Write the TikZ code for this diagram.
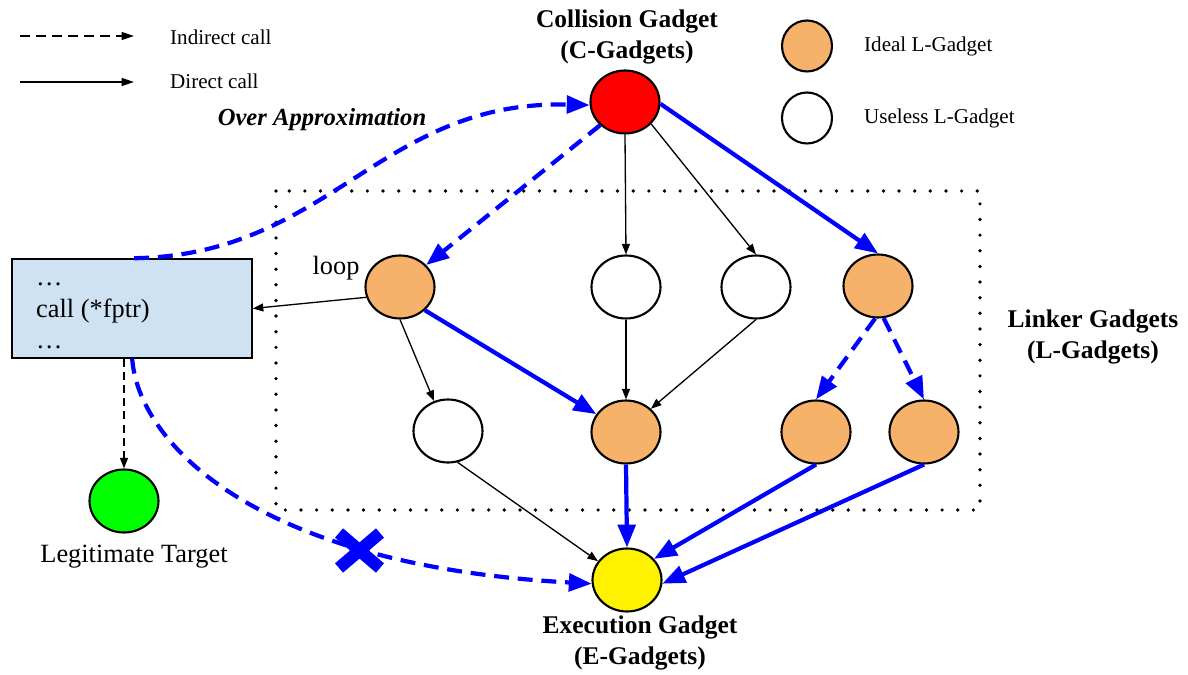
\documentclass[tikz,border=0pt]{standalone}
\usepackage{fontspec}
\setmainfont{Liberation Serif}
\usetikzlibrary{shapes.geometric,arrows.meta}
\definecolor{lorange}{HTML}{F6B26B}
\definecolor{boxblue}{HTML}{CFE2F3}
\definecolor{pureblue}{HTML}{0000FF}
\begin{document}
\begin{tikzpicture}[x=0.02cm,y=-0.02cm,
  gadget/.style={ellipse,draw=black,line width=1.2pt,minimum width=1.38cm,minimum height=1.26cm,inner sep=0pt},
  keycirc/.style={ellipse,draw=black,line width=1.2pt,minimum width=1.0cm,minimum height=1.02cm,inner sep=0pt},
  ideal/.style={gadget,fill=lorange},
  useless/.style={gadget,fill=white},
  thinarrow/.style={draw=black,line width=0.75pt,-{Triangle[length=6pt,width=4.5pt]}},
  thindash/.style={thinarrow,dash pattern=on 4.5pt off 3pt},
  bluearrow/.style={draw=pureblue,line width=2.4pt,-{Triangle[length=13pt,width=10pt]}},
  bluedash/.style={bluearrow,dash pattern=on 8.5pt off 5pt},
  keyarrow/.style={draw=black,line width=0.75pt,-{Triangle[length=7pt,width=4.5pt]}},
  keytext/.style={anchor=west,font=\fontsize{12}{14}\selectfont},
  plain/.style={font=\fontsize{15}{18}\selectfont},
  title/.style={align=center,font=\fontsize{14.5}{17.6}\selectfont\bfseries},
  frame/.style={draw=black,line width=2.1pt,line cap=round,dash pattern=on 0pt off 8.9pt}
]
\useasboundingbox (0,0) rectangle (1188,675);

% group of linker gadgets
\draw[frame] (276,191) rectangle (980,510);

% key
\coordinate (k1a) at (20,36);
\coordinate (k1b) at (134,36);
\coordinate (k2a) at (20,82);
\coordinate (k2b) at (134,82);
\draw[keyarrow,dash pattern=on 5.7pt off 3.4pt] (k1a) -- (k1b);
\draw[keyarrow] (k2a) -- (k2b);
\node[keytext] (kt1) at (164,37) {Indirect call};
\node[keytext] (kt2) at (164,81) {Direct call};
\node[keycirc,fill=lorange] (kideal) at (807,46) {};
\node[keycirc,fill=white] (kuse) at (807,118) {};
\node[keytext] (kt3) at (858,46) {Ideal L-Gadget};
\node[keytext] (kt4) at (858,118) {Useless L-Gadget};

% labels
\node[font=\fontsize{14}{16}\selectfont\bfseries\itshape] (over) at (322,120) {Over Approximation};
\node[title] (ctitle) at (627,37) {Collision Gadget\\(C-Gadgets)};
\node[title] (etitle) at (640,643) {Execution Gadget\\(E-Gadgets)};
\node[title] (ltitle) at (1093,337) {Linker Gadgets\\(L-Gadgets)};
\node[plain] (looplbl) at (336,268) {loop};
\node[plain] (legitlbl) at (134,557) {Legitimate Target};

% caller code block
\node[draw=black,line width=0.9pt,fill=boxblue,minimum width=4.8cm,minimum height=1.98cm,inner sep=0pt] (box) at (132,308.5) {};
\node[plain,anchor=base west] (c1) at (30,286) {\ldots};
\node[plain,anchor=base west] (c2) at (30,318) {call (*fptr)};
\node[plain,anchor=base west] (c3) at (30,349) {\ldots};

% gadgets
\node[gadget,fill=red] (coll) at (625,102) {};
\node[ideal] (loop) at (400,287) {};
\node[useless] (w2) at (626,287) {};
\node[useless] (w3) at (756,287) {};
\node[ideal] (o4) at (878,286) {};
\node[useless] (w4) at (448,431) {};
\node[ideal] (o5) at (626,432) {};
\node[ideal] (o6) at (816,432) {};
\node[ideal] (o7) at (924,432) {};
\node[gadget,fill=yellow] (exe) at (627,580) {};
\node[gadget,fill=green] (legit) at (124,501) {};

% direct calls
\draw[thinarrow] (coll.south) -- (w2.north);
\draw[thinarrow] (coll.-40) -- (w3.north);
\draw[thinarrow] (loop.-163) -- (box.east);
\draw[thinarrow] (loop.south) -- (w4.115);
\draw[thinarrow] (w2.south) -- (o5.north);
\draw[thinarrow] (w3.south) -- (o5.43);
\draw[thinarrow] (w4.-73) -- (exe.147);
\draw[thindash] (box.south -| legit.north) -- (legit.north);

% gadget chain
\draw[bluedash] (coll.-137) -- (loop.40);
\draw[bluearrow] (coll.-3) -- (o4.north);
\draw[bluearrow] (loop.-43) -- (o5.149);
\draw[bluedash] (o4.-95) -- (o6.north);
\draw[bluedash] (o4.-80) -- (o7.north);
\draw[bluearrow] (o5.south) -- (exe.north);
\draw[bluearrow] (o6.south) -- (exe.38);
\draw[bluearrow] (o7.south) -- (exe.-6);

% over-approximated indirect targets
\draw[bluedash] ([xshift=2.46cm]box.north west) .. controls (330,255) and (380,100) .. (coll.185);
\draw[bluedash] ([xshift=2.42cm]box.south west) .. controls (138,440) and (250,565) .. (exe.186);

% blocked edge
\draw[pureblue,line width=7pt] (339,533) -- (380,568) (380,533) -- (339,568);
\end{tikzpicture}
\end{document}
